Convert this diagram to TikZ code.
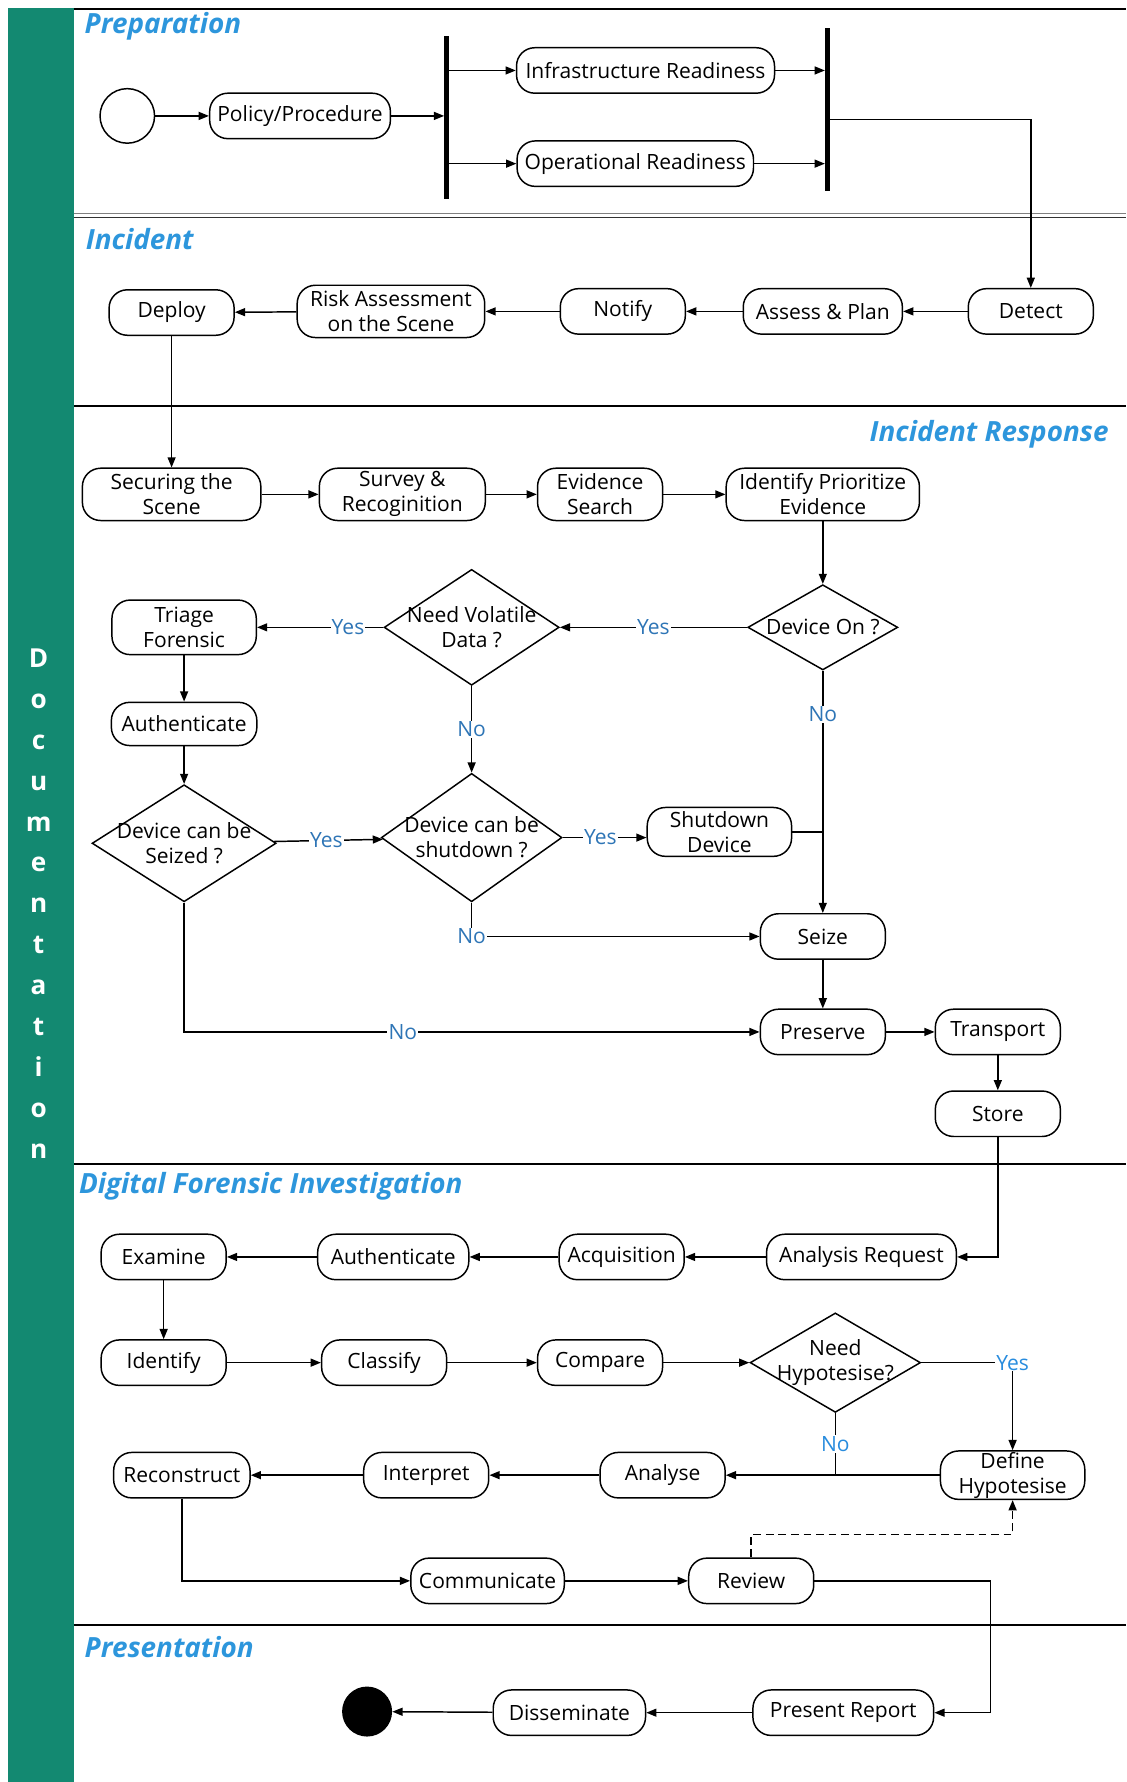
\documentclass[tikz,border=0pt]{standalone}
\usepackage{fontspec}
\setmainfont{Open Sans}
\usetikzlibrary{shapes.geometric,arrows.meta}

\definecolor{docgreen}{RGB}{19,137,113}
\definecolor{lanecol}{RGB}{45,150,220}
\definecolor{yesno}{RGB}{46,117,182}
\definecolor{yesnob}{RGB}{40,140,222}

\newcommand{\nodefont}{\fontsize{18.5}{22}\selectfont}
\newcommand{\lanefont}{\fontsize{24.5}{28}\selectfont\bfseries\itshape}
\newcommand{\lblfont}{\fontsize{18.5}{22}\selectfont}

\tikzstyle{act}=[draw,rounded corners=16pt,minimum width=110pt,minimum height=40pt,inner xsep=4pt,inner ysep=1pt,line width=1.3pt,align=center,font=\nodefont]
\tikzstyle{dec}=[draw,diamond,inner sep=-14pt,line width=1.3pt,align=center,font=\nodefont]
\tikzstyle{flow}=[line width=1.3pt,-{Triangle[length=9pt,width=7pt]}]
\tikzstyle{wire}=[line width=1.3pt]
\tikzstyle{lbl}=[fill=white,inner sep=1pt,text=yesno,font=\lblfont]
\tikzstyle{lane}=[text=lanecol,font=\lanefont,anchor=west]
\tikzstyle{bar}=[fill=black,minimum width=4pt,inner sep=0pt]

\begin{document}
\begin{tikzpicture}[x=1pt,y=-1pt]
    \useasboundingbox (0,0) rectangle (991,1568);
    % documentation band
    \fill[docgreen] (7,7) rectangle (65,1568);
    \node (doc)[text=white,font=\fontsize{23}{36}\selectfont\bfseries,align=center] at (34,795) {D\\o\\c\\u\\m\\e\\n\\t\\a\\t\\i\\o\\n};

    % lanes
    \draw[line width=1.6pt] (65,8) -- (991,8);
    \draw[gray,line width=1.2pt] (65,188) -- (991,188);
    \draw[black!80,line width=1.2pt] (65,191.5) -- (991,191.5);
    \draw[line width=1.4pt] (65,357) -- (991,357);
    \draw[line width=1.4pt] (65,1024) -- (991,1024);
    \draw[line width=1.4pt] (65,1430) -- (991,1430);
    \node (lprep)[lane] at (71,23) {Preparation};
    \node (linc)[lane] at (72,210) {Incident};
    \node (lir)[lane,anchor=east] at (979,382) {Incident Response};
    \node (ldfi)[lane] at (66,1044) {Digital Forensic Investigation};
    \node (lpres)[lane] at (71,1449) {Presentation};

    % preparation
    \node (start)[circle,draw,line width=1.3pt,minimum size=48pt] at (112,102) {};
    \node (pol)[act,minimum width=159pt] at (264,102) {Policy/Procedure};
    \node (fork)[bar,minimum height=143pt] at (393,103.5) {};
    \node (infra)[act,minimum width=227pt] at (568,62) {Infrastructure Readiness};
    \node (oper)[act,minimum width=208pt] at (559,144) {Operational Readiness};
    \node (join)[bar,minimum height=143pt] at (728,96.5) {};
    \draw[flow] (start) -- (pol);
    \draw[flow] (pol) -- (pol -| fork.west);
    \draw[flow] (fork.east |- infra) -- (infra);
    \draw[flow] (fork.east |- oper) -- (oper);
    \draw[flow] (infra) -- (infra -| join.west);
    \draw[flow] (oper) -- (oper -| join.west);

    % incident
    \node (det)[act] at (907,274) {Detect};
    \node (asp)[act,minimum width=140pt] at (724,274) {Assess \& Plan};
    \node (not)[act] at (548,274) {Notify};
    \node (risk)[act,minimum width=165pt,minimum height=46pt] at (344,274) {Risk Assessment\\on the Scene};
    \node (dep)[act] at (151,275) {Deploy};
    \draw[wire,-{Triangle[length=9pt,width=7pt]}] ([yshift=-8.5pt]join.east) -| (det);
    \draw[flow] (det) -- (asp);
    \draw[flow] (asp) -- (not);
    \draw[flow] (not) -- (risk);
    \draw[flow] (risk) -- (dep);

    % incident response
    \node (sec)[act,minimum width=157pt,minimum height=46pt] at (151,435) {Securing the\\Scene};
    \node (sur)[act,minimum width=146pt,minimum height=46pt] at (354,435) {Survey \&\\Recoginition};
    \node (evs)[act,minimum height=46pt] at (528,435) {Evidence\\Search};
    \node (idp)[act,minimum width=170pt,minimum height=46pt] at (724,435) {Identify Prioritize\\Evidence};
    \node (don)[dec,minimum width=132pt,minimum height=75pt] at (724,552) {Device On ?};
    \node (nvd)[dec,minimum width=154pt,minimum height=102pt] at (415,552) {Need Volatile\\Data ?};
    \node (tri)[act,minimum width=127pt,minimum height=48pt] at (162,552) {Triage\\Forensic};
    \node (aut1)[act,minimum width=128pt,minimum height=38pt] at (162,637) {Authenticate};
    \node (dcs)[dec,minimum width=162pt,minimum height=103pt] at (162,742) {Device can be\\Seized ?};
    \node (dsh)[dec,minimum width=159pt,minimum height=113pt] at (415,737) {Device can be\\shutdown ?};
    \node (shd)[act,minimum width=127pt,minimum height=43pt] at (633,732) {Shutdown\\Device};
    \node (sei)[act] at (724,824) {Seize};
    \node (pre)[act] at (724,908) {Preserve};
    \node (tra)[act] at (878,908) {Transport};
    \node (sto)[act] at (878,980) {Store};
    \draw[flow] (dep) -- (sec);
    \draw[flow] (sec) -- (sur);
    \draw[flow] (sur) -- (evs);
    \draw[flow] (evs) -- (idp);
    \draw[flow] (idp) -- (don);
    \draw[flow] (don) -- node[lbl]{Yes} (nvd);
    \draw[flow] (nvd) -- node[lbl,pos=0.28]{Yes} (tri);
    \draw[flow] (tri) -- (aut1);
    \draw[flow] (aut1) -- (dcs);
    \draw[flow] (nvd) -- node[lbl]{No} (dsh);
    \draw[flow] (dcs) -- node[lbl,pos=0.48]{Yes} (dsh);
    \draw[flow] (dsh.east) -- node[lbl,pos=0.45]{Yes} (dsh.east -| shd.west);
    \draw[wire] (shd.east) -- (shd.east -| don);
    \draw[flow] (don) -- node[lbl,pos=0.18]{No} (sei);
    \draw[flow] (dsh.south) |- node[lbl,pos=0.5]{No} (sei);
    \draw[flow] (dcs.south) |- node[lbl,pos=0.69]{No} (pre);
    \draw[flow] (sei) -- (pre);
    \draw[flow] (pre) -- (tra);
    \draw[flow] (tra) -- (sto);

    % digital forensic investigation
    \node (ar)[act,minimum width=167pt] at (758,1106) {Analysis Request};
    \node (acq)[act] at (547,1106) {Acquisition};
    \node (aut2)[act,minimum width=133pt] at (346,1106) {Authenticate};
    \node (exa)[act] at (144,1106) {Examine};
    \node (ide)[act] at (144,1199) {Identify};
    \node (cla)[act] at (338,1199) {Classify};
    \node (com)[act] at (528,1199) {Compare};
    \node (nhy)[dec,minimum width=150pt,minimum height=78pt] at (735,1199) {Need\\Hypotesise?};
    \node (def)[act,minimum width=127pt,minimum height=42pt] at (891,1298) {Define\\Hypotesise};
    \node (ana)[act] at (583,1298) {Analyse};
    \node (int)[act] at (375,1298) {Interpret};
    \node (rec)[act,minimum width=120pt] at (160,1298) {Reconstruct};
    \node (cmm)[act,minimum width=135pt] at (429,1391) {Communicate};
    \node (rev)[act] at (661,1391) {Review};
    \draw[flow] (sto) |- (ar);
    \draw[flow] (ar) -- (acq);
    \draw[flow] (acq) -- (aut2);
    \draw[flow] (aut2) -- (exa);
    \draw[flow] (exa) -- (ide);
    \draw[flow] (ide) -- (cla);
    \draw[flow] (cla) -- (com);
    \draw[flow] (com) -- (nhy);
    \draw[flow] (nhy) -| node[lbl,text=yesnob,pos=0.5]{Yes} (def);
    \draw[wire] (nhy) -- node[lbl,text=yesnob]{No} (nhy |- ana);
    \draw[flow] (def) -- (ana);
    \draw[flow] (ana) -- (int);
    \draw[flow] (int) -- (rec);
    \draw[flow] (rec) |- (cmm);
    \draw[flow] (cmm) -- (rev);
    \draw[flow,dash pattern=on 7pt off 4pt] (rev.north) -- ++(0,-20) -| (def.south);

    % presentation
    \node (prr)[act,minimum width=159pt] at (742,1507) {Present Report};
    \node (dis)[act,minimum width=134pt] at (501,1507) {Disseminate};
    \node (stop)[circle,fill=black,minimum size=44pt] at (323,1506) {};
    \draw[flow] (rev.east) -- ++(155,0) |- (prr);
    \draw[flow] (prr) -- (dis);
    \draw[flow] (dis) -- (stop);
\end{tikzpicture}
\end{document}
